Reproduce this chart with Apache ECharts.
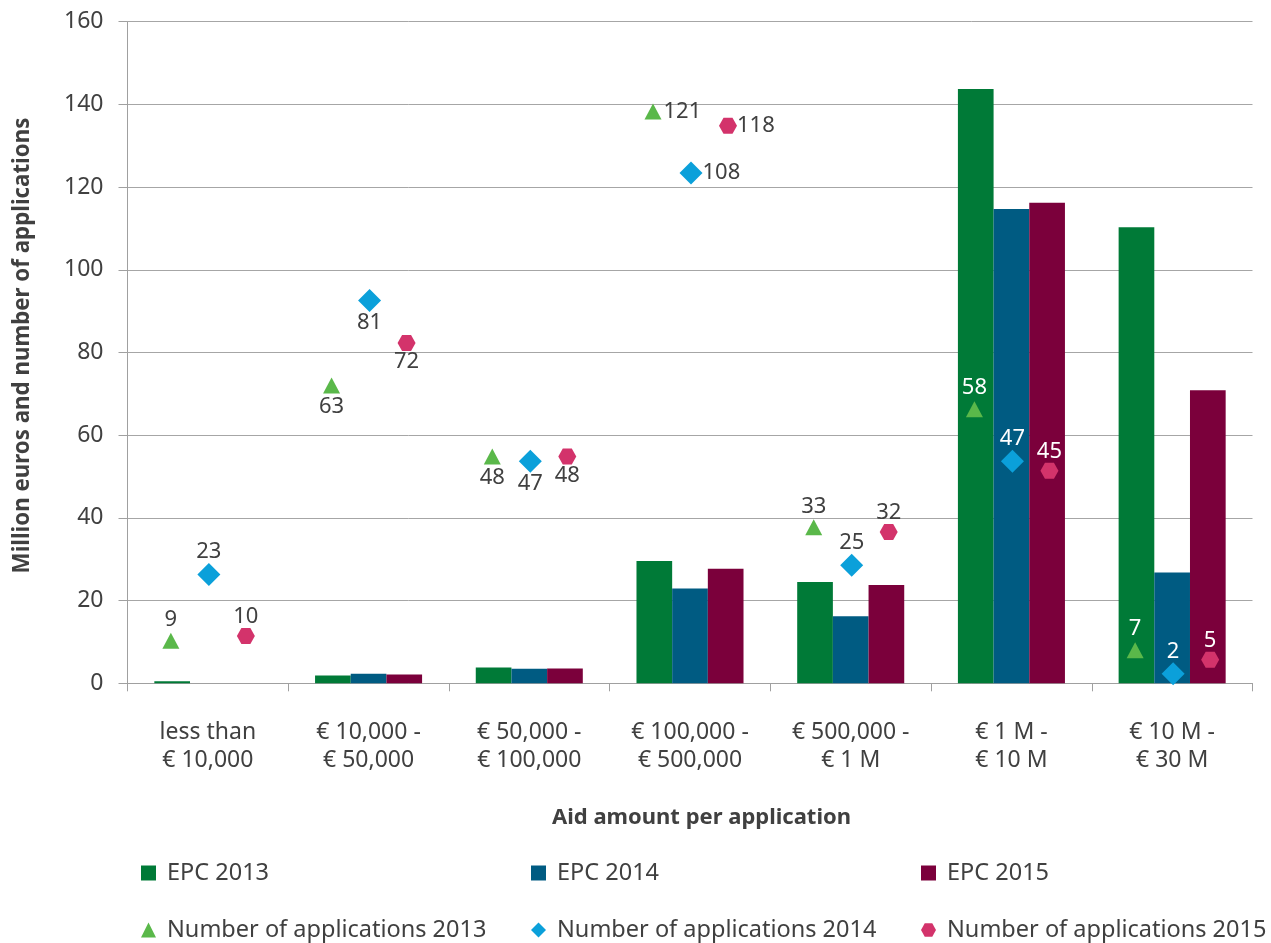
<!DOCTYPE html>
<html><head><meta charset="utf-8">
<script src="https://cdn.jsdelivr.net/npm/echarts@6/dist/echarts.min.js"></script>
<style>html,body{margin:0;padding:0;background:#fff}#c{width:1271px;height:943px}</style>
</head><body><div id="c"></div>
<script>
// ---- data ----
const categories = ['less than\n€ 10,000', '€ 10,000 -\n€ 50,000', '€ 50,000 -\n€ 100,000', '€ 100,000 -\n€ 500,000', '€ 500,000 -\n€ 1 M', '€ 1 M -\n€ 10 M', '€ 10 M -\n€ 30 M'];
const epc2013 = [0.5, 1.9, 3.8, 29.6, 24.5, 143.7, 110.3];
const epc2014 = [0, 2.3, 3.5, 22.9, 16.2, 114.7, 26.8];
const epc2015 = [0, 2.1, 3.6, 27.7, 23.8, 116.2, 70.9];
const apps2013 = [9, 63, 48, 121, 33, 58, 7];
const apps2014 = [23, 81, 47, 108, 25, 47, 2];
const apps2015 = [10, 72, 48, 118, 32, 45, 5];
const seriesNames = ['EPC 2013', 'EPC 2014', 'EPC 2015', 'Number of applications 2013', 'Number of applications 2014', 'Number of applications 2015'];

// ---- styling ----
const labelPlace = ['top', 'bottom', 'bottom', 'right', 'top', 'top', 'top'];
const labelOnBar = [false, false, false, false, false, true, true];
const FONT = '"Noto Sans", "Open Sans", sans-serif';
const TXT = '#404040';
const HEX = 'path://M0,8L4.5,0L13.5,0L18,8L13.5,16L4.5,16Z';

function barSeries(name, values, color) {
  return { name, type: 'bar', data: values, barGap: '0%', barCategoryGap: '33.4%',
    itemStyle: { color }, z: 2 };
}
function appsSeries(name, values, symbol, size, color, offsetX, dist) {
  return {
    name, type: 'scatter', yAxisIndex: 1, symbol, symbolSize: size, symbolOffset: [offsetX, 0],
    itemStyle: { color, opacity: 1 },
    label: { show: true, distance: dist, fontSize: 22, fontFamily: FONT,
      formatter: p => String(p.value[1]) },
    data: values.map((v, i) => ({
      value: [categories[i], v],
      label: { position: labelPlace[i], color: labelOnBar[i] ? '#ffffff' : TXT }
    })),
    z: 5
  };
}

const chart = echarts.init(document.getElementById('c'), null, { renderer: 'canvas' });

const legendCols = [141, 531, 921];
const legendRows = [861, 918];
const legends = seriesNames.map((n, k) => ({
  data: [n], left: legendCols[k % 3], top: legendRows[Math.floor(k / 3)],
  padding: 0, itemWidth: 15, itemHeight: 15, selectedMode: false,
  icon: k < 3 ? 'rect' : undefined,
  textStyle: { fontSize: 23.5, color: TXT, fontFamily: FONT, padding: [0, 0, 0, 6] }
}));

chart.setOption({
  animation: false,
  textStyle: { fontFamily: FONT },
  grid: { left: 127.5, top: 21.7, width: 1125, height: 661.6, containLabel: false },
  legend: legends,
  xAxis: {
    type: 'category', data: categories,
    name: 'Aid amount per application', nameLocation: 'middle', nameGap: 123,
    nameTextStyle: { fontSize: 22, fontWeight: 'bold', color: TXT, fontFamily: FONT, padding: [0, 0, 0, 23] },
    axisLine: { lineStyle: { color: '#a0a0a0', width: 1 } },
    axisTick: { show: true, length: 8, lineStyle: { color: '#a0a0a0' } },
    axisLabel: { interval: 0, margin: 35, fontSize: 23, lineHeight: 28, color: TXT, fontFamily: FONT, align: 'center' }
  },
  yAxis: [{
    type: 'value', min: 0, max: 160, interval: 20,
    name: 'Million euros and number of applications', nameLocation: 'middle', nameGap: 94,
    nameTextStyle: { fontSize: 22.3, fontWeight: 'bold', color: TXT, fontFamily: FONT, padding: [0, 0, 0, 14] },
    axisLine: { show: true, lineStyle: { color: '#a0a0a0' } },
    axisTick: { show: true, length: 9, lineStyle: { color: '#a0a0a0' } },
    axisLabel: { margin: 24, fontSize: 23, color: TXT, fontFamily: FONT },
    splitLine: { lineStyle: { color: '#a6a6a6', width: 1 } }
  }, {
    type: 'value', min: 0, max: 140, show: false, splitLine: { show: false }
  }],
  series: [
    barSeries(seriesNames[0], epc2013, '#007a37'),
    barSeries(seriesNames[1], epc2014, '#005b82'),
    barSeries(seriesNames[2], epc2015, '#7b003b'),
    appsSeries(seriesNames[3], apps2013, 'triangle', [17, 16], '#5ab84a', -37, 2),
    appsSeries(seriesNames[4], apps2014, 'diamond', [23, 23], '#0ba0da', 1, 0),
    appsSeries(seriesNames[5], apps2015, HEX, [18, 16], '#d3336b', 38, 0)
  ]
});
</script>
</body></html>
